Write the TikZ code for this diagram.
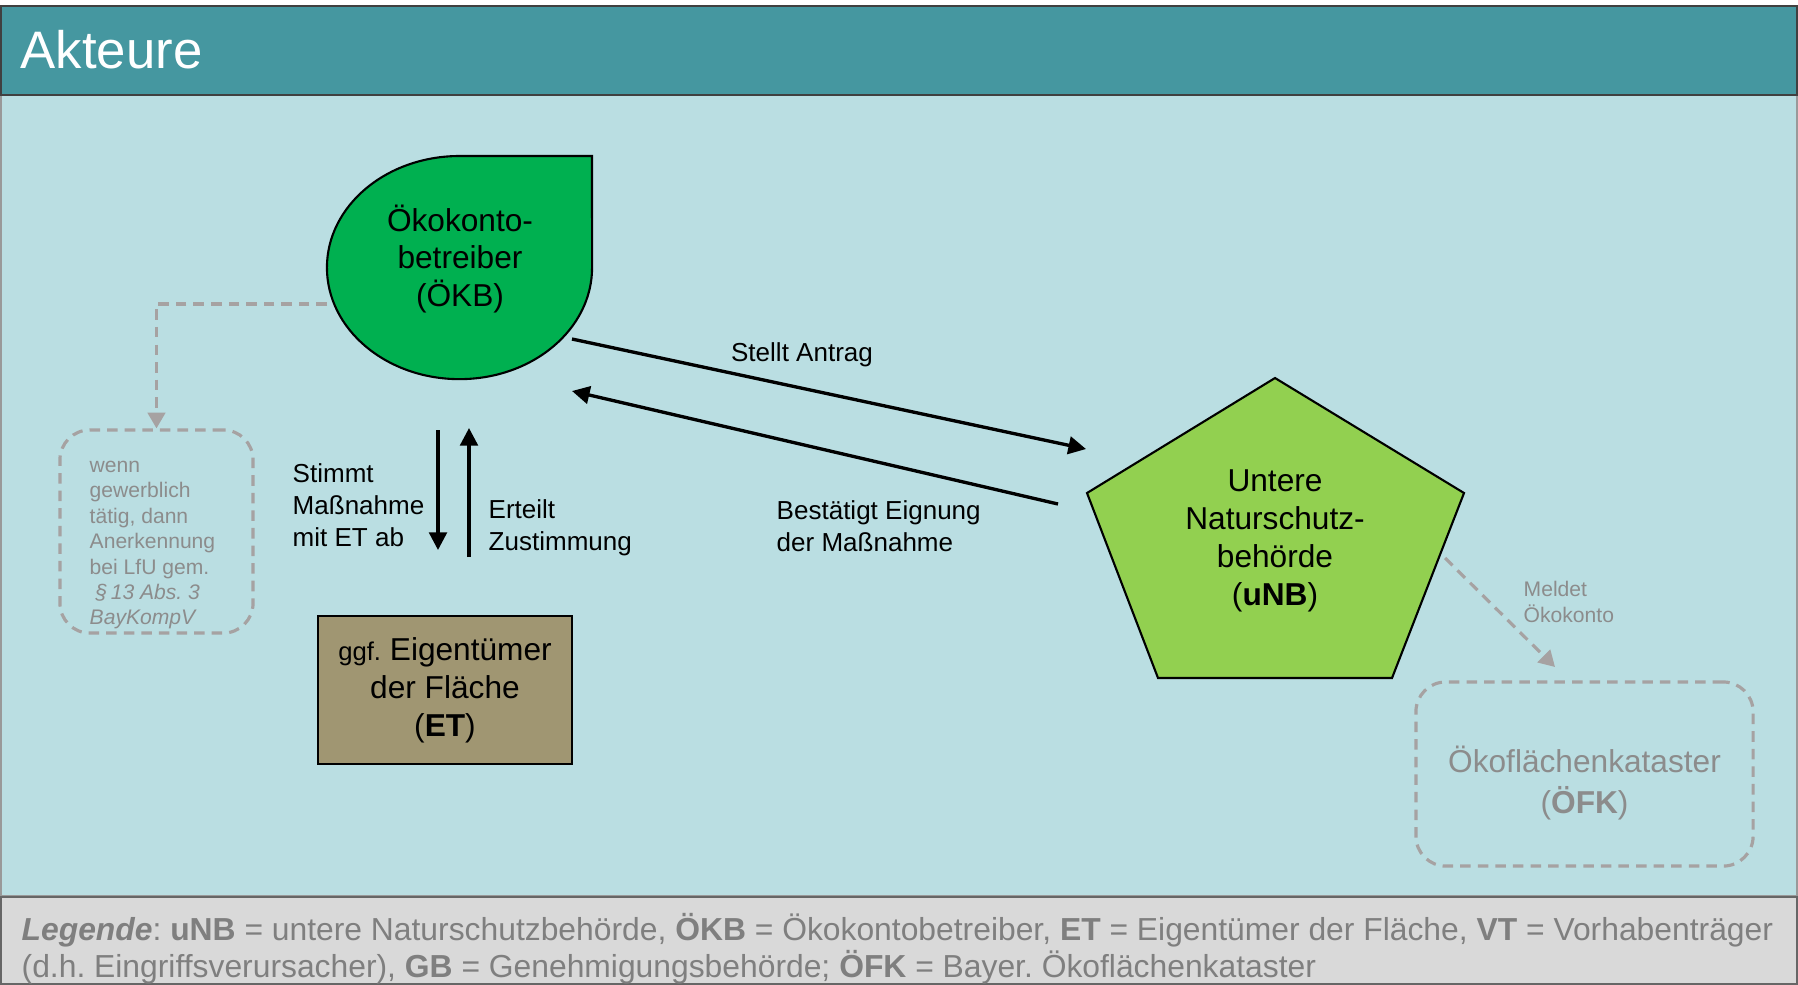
\documentclass[tikz,border=0pt]{standalone}
\usepackage{fontspec}
\setmainfont{Liberation Sans}
\usetikzlibrary{arrows.meta, positioning}
\frenchspacing

\definecolor{headteal}{HTML}{4597A0}
\definecolor{panelblue}{HTML}{BADEE2}
\definecolor{legendgray}{HTML}{D9D9D9}
\definecolor{okbgreen}{HTML}{00B050}
\definecolor{unbgreen}{HTML}{92D050}
\definecolor{etbrown}{HTML}{A09672}
\definecolor{hintgray}{HTML}{A6A2A2}
\definecolor{hinttext}{HTML}{8C8C8C}
\definecolor{legendtext}{HTML}{7F7F7F}

\begin{document}
\begin{tikzpicture}[
    x=0.01cm, y=-0.01cm,
    actor/.style={font=\fontsize{9}{10.8}\selectfont, align=center, inner sep=0pt},
    flowlabel/.style={font=\fontsize{7.4}{9.1}\selectfont, align=left, inner sep=0pt},
    hint/.style={font=\fontsize{6}{7.2}\selectfont, align=left, inner sep=0pt, text=hinttext},
    flow/.style={-{Triangle[length=5pt,width=5pt]}, line width=0.95pt},
    hintflow/.style={-{Triangle[length=4.5pt,width=5pt]}, line width=0.9pt, hintgray, dash pattern=on 3pt off 2pt},
    hintbox/.style={draw=hintgray, line width=0.9pt, dash pattern=on 3pt off 2pt, rounded corners=8.5pt}
]
\useasboundingbox (0,0) rectangle (1798,984);

% Background
\fill[white] (0,0) rectangle (1798,984);
\draw[fill=panelblue, draw=black!40] (1,95) rectangle (1797,896);
\draw[fill=headteal, draw=black!75] (1,6) rectangle (1797,95);
\draw[fill=legendgray, draw=black!60] (1,897) rectangle (1797,984);
\node[anchor=base west, inner sep=0pt, text=white, font=\fontsize{15}{18}\selectfont] (title) at (20,68) {Akteure};

% Oekokontobetreiber (drop)
\draw[fill=okbgreen, line width=0.6pt] (592,156) -- (459.5,156)
    arc[start angle=90, end angle=360, x radius=1.325cm, y radius=1.115cm] -- cycle;
\node[actor] (okb) at (460,259) {Ökokonto-\\betreiber\\(ÖKB)};

% Untere Naturschutzbehoerde (pentagon)
\draw[fill=unbgreen, line width=0.6pt] (1275,378) -- (1464,493) -- (1392,678) -- (1158,678) -- (1087,493) -- cycle;
\node[actor] (unb) at (1275,541) {Untere\\Naturschutz-\\behörde\\(\textbf{uNB})};

% Eigentuemer
\node[actor, draw, line width=0.6pt, fill=etbrown, minimum width=2.54cm, minimum height=1.48cm] (et) at (445,690)
    {{\fontsize{7.3}{8}\selectfont ggf.} Eigentümer\\der Fläche\\(\textbf{ET})};

% Hints
\node[hintbox, minimum width=1.93cm, minimum height=2.03cm] (lfu) at (156.5,531.5) {};
\node[hint, font=\fontsize{6}{7.25}\selectfont, anchor=west] (lfutext) at (89,545)
    {wenn\\gewerblich\\tätig, dann\\Anerkennung\\bei LfU gem.\\\textit{\ \S\,13 Abs. 3}\\\textit{BayKompV}};
\node[hintbox, minimum width=3.37cm, minimum height=1.84cm] (ofk) at (1584.5,774) {};
\node[actor, font=\fontsize{9}{11.5}\selectfont, text=hinttext] (ofktext) at (1584.5,783)
    {Ökoflächenkataster\\(\textbf{ÖFK})};

% Connectors
\coordinate (okbwest) at (327,304);
\draw[hintflow] (okbwest) -| (lfu.north);

\coordinate (antragA) at (572,339);
\coordinate (antragB) at (1086,449);
\draw[flow] (antragA) -- (antragB);
\node[flowlabel, anchor=base] (antrag) at (802,361) {Stellt Antrag};

\coordinate (eignungA) at (1058,504);
\coordinate (eignungB) at (572,391);
\draw[flow] (eignungA) -- (eignungB);
\node[flowlabel, anchor=west] (eignung) at (776,526) {Bestätigt Eignung\\der Maßnahme};

\coordinate (abA) at (438,430);
\coordinate (abB) at (438,550);
\draw[flow] (abA) -- (abB);
\node[flowlabel, anchor=west] (stimmt) at (292,505) {Stimmt\\Maßnahme\\mit ET ab};

\coordinate (zuA) at (469,557);
\coordinate (zuB) at (469,428);
\draw[flow] (zuA) -- (zuB);
\node[flowlabel, anchor=west] (erteilt) at (488,528) {Erteilt\\Zustimmung};

\coordinate (meldA) at (1445,558);
\coordinate (meldB) at (1555,667);
\draw[hintflow] (meldA) -- (meldB);
\node[hint, anchor=west] (meldet) at (1523,602) {Meldet\\Ökokonto};

% Legend
\node[anchor=west, align=left, inner sep=0pt, text=legendtext, font=\fontsize{9.05}{10.5}\selectfont] (legend) at (21,949)
    {\textbf{\textit{Legende}}: \textbf{uNB} = untere Naturschutzbehörde, \textbf{ÖKB} = Ökokontobetreiber, \textbf{ET} = Eigentümer der Fläche, \textbf{VT} = Vorhabenträger\\
     (d.h. Eingriffsverursacher), \textbf{GB} = Genehmigungsbehörde; \textbf{ÖFK} = Bayer. Ökoflächenkataster};

\end{tikzpicture}
\end{document}
